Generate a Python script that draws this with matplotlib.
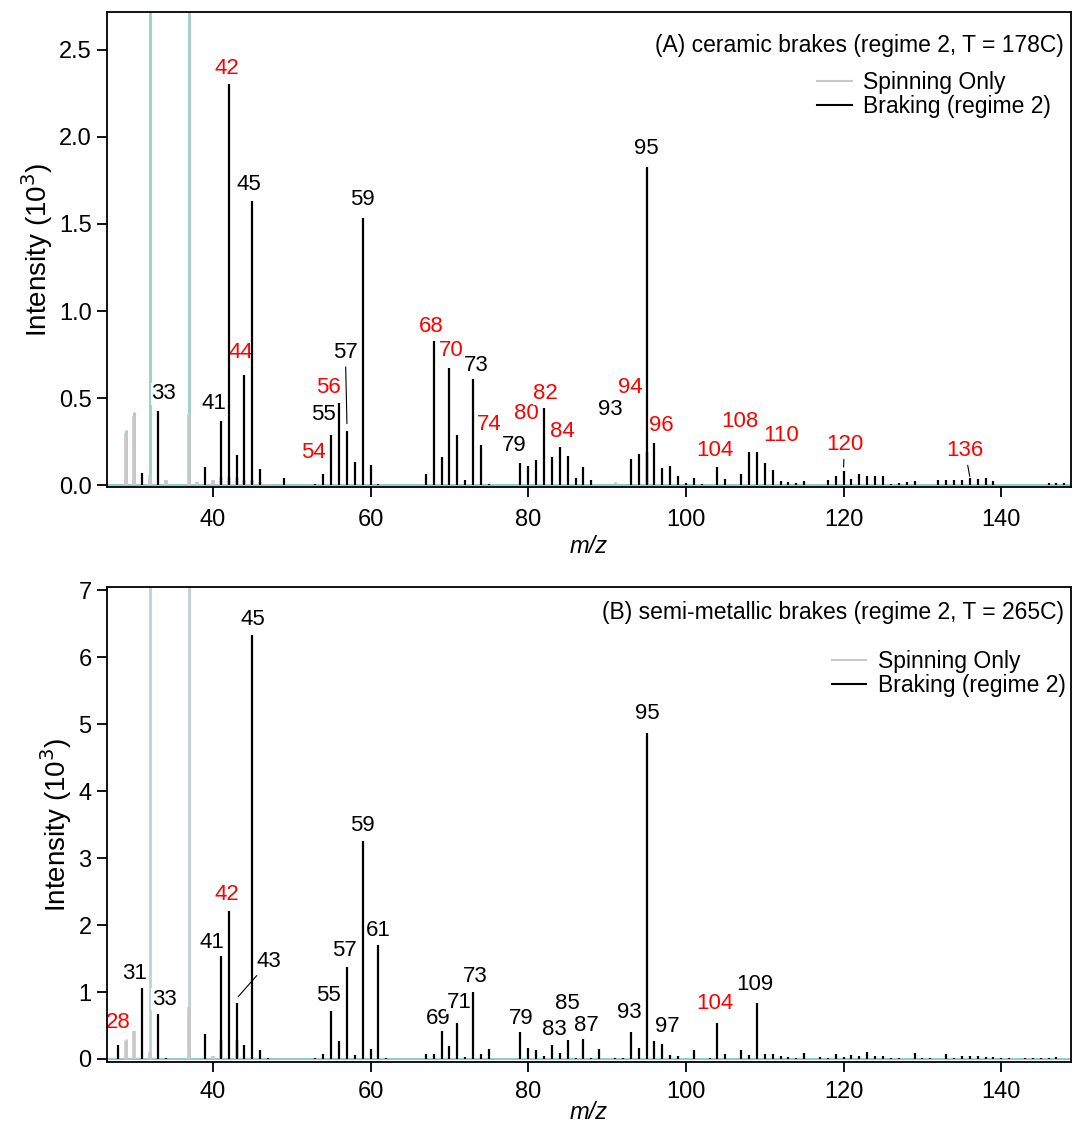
import matplotlib
matplotlib.use('Agg')
import matplotlib.pyplot as plt
import numpy as np

plt.rcParams['font.family'] = ['Liberation Sans', 'DejaVu Sans']

# ---- data (intensity in 10^3) ----
# (A) ceramic brakes
a_brk_mz = [28, 31, 33, 39, 41, 42, 43, 44, 45, 46, 49, 53, 54, 55, 56, 57, 58, 59, 60, 61,
            67, 68, 69, 70, 71, 72, 73, 74, 75, 79, 80, 81, 82, 83, 84, 85, 86, 87, 88, 89,
            93, 94, 95, 96, 97, 98, 99, 100, 101, 102, 104, 105, 106, 107, 108, 109, 110,
            111, 112, 113, 114, 115, 118, 119, 120, 121, 122, 123, 124, 125, 126, 127, 128,
            129, 132, 133, 134, 135, 136, 137, 138, 139, 140, 142, 143, 146, 147, 148]
a_brk_val = [0.005, 0.07, 0.424, 0.105, 0.367, 2.30, 0.172, 0.636, 1.63, 0.092, 0.044, 0.01,
             0.067, 0.287, 0.474, 0.31, 0.134, 1.535, 0.119, 0.01,
             0.067, 0.826, 0.16, 0.675, 0.29, 0.03, 0.61, 0.23, 0.01, 0.13, 0.11, 0.143,
             0.443, 0.16, 0.22, 0.168, 0.04, 0.103, 0.03, 0.005,
             0.153, 0.18, 1.825, 0.246, 0.10, 0.113, 0.055, 0.015, 0.044, 0.01, 0.105, 0.035,
             0.005, 0.067, 0.19, 0.19, 0.126,
             0.086, 0.025, 0.02, 0.015, 0.028, 0.03, 0.055, 0.08, 0.035, 0.065, 0.055, 0.055,
             0.055, 0.01, 0.015, 0.02,
             0.025, 0.03, 0.03, 0.03, 0.03, 0.04, 0.035, 0.04, 0.025, 0.005, 0.005, 0.005,
             0.015, 0.015, 0.015]
a_spin_mz = [29, 30, 32, 34, 37, 38, 40, 41, 42, 43, 44, 45, 46, 47, 95, 108, 109]
a_spin_val = [0.30, 0.40, 0.06, 0.03, 0.41, 0.02, 0.03, 0.05, 0.05, 0.04, 0.03, 0.03, 0.02,
              0.01, 0.19, 0.01, 0.01]
a_bg_mz = [29, 30, 32, 37, 91]
a_bg_val = [0.32, 0.42, 3.0, 3.0, 0.02]

# (B) semi-metallic brakes
b_brk_mz = [28, 31, 33, 34, 39, 41, 42, 43, 44, 45, 46, 47, 53, 54, 55, 56, 57, 58, 59, 60,
            61, 62, 67, 68, 69, 70, 71, 72, 73, 74, 75, 79, 80, 81, 82, 83, 84, 85, 86, 87,
            88, 89, 91, 92, 93, 94, 95, 96, 97, 98, 99, 101, 103, 104, 105, 107, 108, 109,
            110, 111, 112, 113, 114, 115, 117, 118, 119, 120, 121, 122, 123, 124, 125, 126,
            127, 129, 130, 131, 133, 134, 135, 136, 137, 138, 139, 140, 141, 143, 144, 145,
            146, 147]
b_brk_val = [0.21, 1.055, 0.67, 0.02, 0.37, 1.537, 2.21, 0.83, 0.21, 6.33, 0.13, 0.02, 0.02,
             0.07, 0.716, 0.27, 1.378, 0.06, 3.25, 0.15,
             1.70, 0.02, 0.08, 0.07, 0.42, 0.20, 0.54, 0.03, 1.0, 0.08, 0.15, 0.40, 0.16, 0.13,
             0.04, 0.21, 0.09, 0.28, 0.02, 0.30,
             0.02, 0.15, 0.015, 0.01, 0.41, 0.16, 4.87, 0.27, 0.22, 0.06, 0.05, 0.135, 0.02,
             0.54, 0.08, 0.135, 0.06, 0.84,
             0.07, 0.07, 0.04, 0.03, 0.02, 0.09, 0.03, 0.02, 0.08, 0.03, 0.06, 0.04, 0.11, 0.04,
             0.04, 0.02,
             0.02, 0.09, 0.01, 0.01, 0.08, 0.02, 0.05, 0.04, 0.04, 0.03, 0.03, 0.02, 0.02, 0.02,
             0.02, 0.02,
             0.02, 0.03]
b_spin_mz = [29, 30, 32, 37, 40, 41, 43, 45]
b_spin_val = [0.27, 0.42, 0.10, 0.78, 0.05, 0.28, 0.29, 0.03]
b_bg_mz = [29, 32, 37]
b_bg_val = [0.30, 8.0, 8.0]

# peak labels: text, x, y, colour
a_labels = [("33", 33.74, 0.525, 'k'), ("41", 40.08, 0.468, 'k'), ("42", 41.77, 2.39, 'r'),
            ("44", 43.6, 0.764, 'r'), ("45", 44.6, 1.727, 'k'), ("54", 52.8, 0.186, 'r'),
            ("55", 54.03, 0.409, 'k'), ("56", 54.7, 0.564, 'r'), ("57", 56.8, 0.764, 'k'),
            ("59", 59.02, 1.641, 'k'), ("68", 67.64, 0.911, 'r'), ("70", 70.22, 0.774, 'r'),
            ("73", 73.35, 0.69, 'k'), ("74", 75.0, 0.348, 'r'), ("79", 78.25, 0.227, 'k'),
            ("80", 79.8, 0.413, 'r'), ("82", 82.2, 0.525, 'r'), ("84", 84.3, 0.312, 'r'),
            ("93", 90.4, 0.434, 'k'), ("94", 92.9, 0.562, 'r'), ("95", 95.0, 1.933, 'k'),
            ("96", 96.85, 0.342, 'r'), ("104", 103.7, 0.199, 'r'), ("108", 106.85, 0.367, 'r'),
            ("110", 112.07, 0.285, 'r'), ("120", 120.1, 0.233, 'r'), ("136", 135.4, 0.199, 'r')]
b_labels = [("28", 28.0, 0.548, 'r'), ("31", 30.07, 1.28, 'k'), ("33", 33.8, 0.896, 'k'),
            ("41", 39.83, 1.74, 'k'), ("42", 41.83, 2.45, 'r'), ("43", 47.15, 1.46, 'k'),
            ("45", 45.02, 6.56, 'k'), ("55", 54.7, 0.945, 'k'), ("57", 56.72, 1.616, 'k'),
            ("59", 58.9, 3.49, 'k'), ("61", 61.0, 1.925, 'k'), ("69", 68.6, 0.607, 'k'),
            ("71", 71.2, 0.84, 'k'), ("73", 73.3, 1.23, 'k'), ("79", 79.15, 0.607, 'k'),
            ("83", 83.3, 0.448, 'k'), ("85", 85.0, 0.83, 'k'), ("87", 87.4, 0.507, 'k'),
            ("93", 92.87, 0.697, 'k'), ("95", 95.05, 5.16, 'k'), ("97", 97.6, 0.48, 'k'),
            ("104", 103.73, 0.83, 'r'), ("109", 108.8, 1.12, 'k')]
# labels with a leader line: label -> (peak m/z, x offset, gap above peak)
a_leaders = {"57": (57, 0.0, 0.044), "120": (120, 0.0, 0.025), "136": (136, 0.0, 0.012)}
b_leaders = {"43": (43, 0.2, 0.10)}

colors = {'k': 'black', 'r': '#ff0000'}
GRAY = '#c8c8c8'


def panel(ax, brk_mz, brk_val, spin_mz, spin_val, bg_mz, bg_val, labels, leaders,
          title, ylim, yticks, yfmt, title_y, leg_xy, teal, xpad, xlabelpad):
    ax.axhline(0, color='#7cc4c4', lw=1.2, zorder=1)
    ax.vlines(bg_mz, 0, bg_val, color=teal, lw=2.0, zorder=2)
    ax.vlines(spin_mz, 0, spin_val, color=GRAY, lw=2.6, zorder=2)
    ax.vlines(brk_mz, 0, brk_val, color='black', lw=1.6, zorder=3)
    # legend handles
    ax.plot([], [], color=GRAY, lw=1.5, label='Spinning Only')
    ax.plot([], [], color='black', lw=1.5, label='Braking (regime 2)')

    peak = dict(zip(brk_mz, brk_val))
    for txt, x, y, c in labels:
        if txt in leaders:
            m, dx, gap = leaders[txt]
            ax.annotate(txt, xy=(m + dx, peak[m] + gap), xytext=(x, y),
                        ha='center', va='center', fontsize=16, color=colors[c],
                        arrowprops=dict(arrowstyle='-', lw=0.8, color='black',
                                        shrinkA=1, shrinkB=0), zorder=5)
        else:
            ax.text(x, y, txt, ha='center', va='center', fontsize=16, color=colors[c],
                    bbox=dict(facecolor='white', edgecolor='none', pad=0.3), zorder=2.5)

    ax.set_xlim(26.56, 148.84)
    ax.set_ylim(*ylim)
    ax.set_xticks([40, 60, 80, 100, 120, 140])
    ax.set_yticks(yticks)
    ax.set_yticklabels([yfmt.format(v) for v in yticks])
    ax.tick_params(direction='out', length=7, width=1.3, labelsize=17)
    ax.tick_params(axis='x', pad=xpad)
    ax.tick_params(axis='y', pad=4)
    for s in ax.spines.values():
        s.set_linewidth(1.3)
    ax.set_ylabel('Intensity (10$^3$)', fontsize=20, labelpad=3)
    ax.set_xlabel('m/z', fontsize=17, fontstyle='italic', labelpad=xlabelpad)
    ax.text(0.993, title_y, title, transform=ax.transAxes, ha='right', va='center',
            fontsize=16.5)
    ax.legend(loc='upper right', bbox_to_anchor=leg_xy, frameon=False,
              fontsize=16.5, handlelength=1.5, handletextpad=0.5, labelspacing=0.05,
              borderaxespad=0)


fig = plt.figure(figsize=(10.73, 11.28), dpi=100)
ax1 = fig.add_axes([0.0997, 0.5683, 0.8984, 0.4211])
ax2 = fig.add_axes([0.0997, 0.0585, 0.8984, 0.4211])

panel(ax1, a_brk_mz, a_brk_val, a_spin_mz, a_spin_val, a_bg_mz, a_bg_val, a_labels,
      a_leaders, '(A) ceramic brakes (regime 2, T = 178C)', (-0.009, 2.716),
      [0.0, 0.5, 1.0, 1.5, 2.0, 2.5], '{:.1f}', 0.93, (0.989, 0.895), '#9ccccc', 9, 3)
panel(ax2, b_brk_mz, b_brk_val, b_spin_mz, b_spin_val, b_bg_mz, b_bg_val, b_labels,
      b_leaders, '(B) semi-metallic brakes (regime 2, T = 265C)', (-0.045, 7.05),
      [0, 1, 2, 3, 4, 5, 6, 7], '{:d}', 0.947, (1.004, 0.887), '#bcd2d2', 7, -2)

fig.savefig('out.png', dpi=100)
